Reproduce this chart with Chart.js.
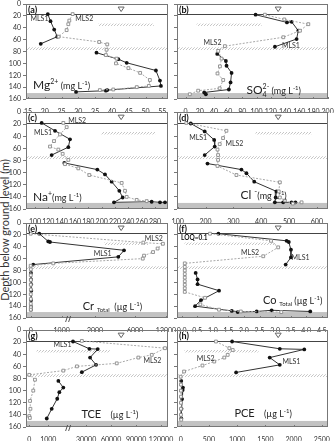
<!DOCTYPE html>
<html>
<head>
<meta charset="utf-8">
<script src="https://cdn.jsdelivr.net/npm/chart.js@4.4.0/dist/chart.umd.min.js"></script>
<style>
  html, body { margin: 0; padding: 0; background: #fff; }
  body { width: 334px; height: 441px; position: relative; overflow: hidden; }
  canvas { position: absolute; }
  #ytitle {
    position: absolute; left: -106px; top: 224px; width: 220px; height: 12px;
    line-height: 12px; text-align: center; transform: rotate(-90deg);
    font: 11px Lato, "Liberation Sans", sans-serif; color: #333;
  }
</style>
</head>
<body>
<div id="ytitle">Depth below ground level (m)</div>
<script>
// depth axis (m) shared by all panels
const depthTicks = [0, 20, 40, 60, 80, 100, 120, 140, 160];

// (a) Mg2+ (mg/L)
const mgTicks = [15, 20, 25, 30, 35, 40, 45, 50, 55];
const mgDepth1 = [17, 29, 43, 55, 67, null, 82, 93, 99, 112, 129, 138, 145, 146, 148];
const mg1 = [20.9, 21.7, 22.8, 23.7, 18.8, null, 35.4, 41.9, 44.4, 53.1, 54.3, 54.6, 38.6, 38.2, 29.3];
const mgDepth2 = [17, 28, 34, 44, 55, 64, 68, 77, 86, 92, 100, 108, 116, 128, 138, 140, 144, 145];
const mg2 = [28.3, 27.3, 27.0, 26.5, 24.1, 36.2, 38.6, 38.4, 38.2, 41.4, 41.2, 44.9, 48.4, 51.3, 51.0, 47.4, 40.4, 36.4];

// (b) SO4 2- (mg/L)
const so4Ticks = [0, 20, 40, 60, 80, 100, 120, 140, 160, 180, 200];
const so4Depth1 = [18, 31, 30, 45, 59, 72, null, 84, 96, 104, 116, 132, 144, 149, 152];
const so41 = [98.6, 142.7, 149.3, 158.7, 156.3, 125.8, null, 44.6, 56.8, 57.7, 64.8, 63.4, 61.0, 26.3, 28.6];
const so4Depth2 = [18, 26, 34, 45, 56, 71, 79, 92, 105, 117, 128, 142, 146, 152];
const so42 = [111.7, 139, 172.8, 161, 137.6, 55.4, 46, 50.7, 48.4, 45, 53, 48, 17.8, 6];

// (c) Na+ (mg/L)
const naTicks = [100, 120, 140, 160, 180, 200, 220, 240, 260, 280];
const naDepth1 = [18, 31, 45, 58, 71, null, 84, 95, 103, 115, 130, 141, 149, 148, 149, 149];
const na1 = [110, 130, 152.5, 150, 125, null, 144, 193.5, 205, 215, 226.5, 231.5, 218.5, 275, 287.5, 295];
const naDepth2 = [18, 25, 37, 48, 57, 62, 69, 79, 86, 93, 104, 117, 130, 140, 145, 147];
const na2 = [142.5, 147.5, 137.5, 128.5, 122.5, 135, 141.5, 150, 145, 165, 181.5, 230, 235, 237.5, 252.5, 267.5];

// (d) Cl- (mg/L)
const clTicks = [100, 200, 300, 400, 500, 600];
const clDepth1 = [19, 32, 46, 57, 71, null, 85, 95, 101, 115, 131, 141, 149, 149, 149, 149];
const cl1 = [147, 197, 231, 233, 197, null, 207, 329, 347, 375, 455, 452, 449, 479, 509, 523];
const clDepth2 = [18, 31, 43, 53, 62, 71, 79, 89, 104, 116, 131, 141, 146, 151, 149];
const cl2 = [131, 275, 263, 251, 243, 245, 245, 243, 311, 467, 463, 467, 485, 514, 545];

// (e) Cr total (ug/L)
const crTicks = [0, 1000, 2000, 6000, 12000];
const crDepth1 = [18, 31, 32, 46, 57, 70, null, 84, 95, 103, 114, 130, 141, 146];
const cr1 = [277, 568, 623, 4900, 4330, 84, null, 10, 12, 15, 20, 12, 10, 8];
const crDepth2 = [18, 33, 35, 43, 49, 55, 60, 68, 72, 78, 88, 96, 104, 112, 120, 128, 136, 142, 146];
const cr2 = [0, 7600, 11400, 10370, 9480, 7740, 7490, 729, 0, 5, 3, 5, 3, 5, 3, 5, 3, 5, 3];

// (f) Co total (ug/L)
const coTicks = [0, 0.5, 1, 1.5, 2, 2.5, 3, 3.5, 4, 4.5];
const coDepth1 = [18, 30, 32, 45, 58, 70, null, 84, 95, 103, 114, 130, 140, 148, 150, 149, 147, 149];
const co1 = [1.18, 3.37, 3.44, 3.51, 3.51, 3.34, null, 0.45, 0.51, 0.51, 1.2, 0.62, 0.43, 1.61, 1.8, 2.41, 2.89, 4.13];
const coDepth2 = [18, 30, 41, 56, 68, 74, 80, 86, 92, 98, 104, 110, 116, 126, 137, 146, 149, 150];
const co2 = [0.91, 2.87, 3.1, 2.62, 0.1, 0.1, 0.1, 0.1, 0.1, 0.1, 0.1, 0.1, 0.1, 0.75, 0.6, 1.2, 1.9, 3.2];

// (g) TCE (ug/L)
const tceTicks = [0, 1000, 30000, 60000, 90000, 120000];
const tceDepth1 = [19, 31, 31.5, 45.5, 57.5, 69.6, null, 84, 95, 102.5, 113.4, 130, 146];
const tce1 = [14000, 34000, 44000, 34800, 42000, 24800, null, 1530, 1790, 1580, 1470, 1180, 920];
const tceDepth2 = [18, 30, 41, 45.5, 55, 60, 67, 74, 82, 100, 117, 130, 142, 145];
const tce2 = [24840, 124800, 108840, 92760, 66840, 18840, 1789, 0, 300, 210, 40, 60, 0, 30];

// (h) PCE (ug/L)
const pceTicks = [0, 500, 1000, 1500, 2000, 2500];
const pceDepth1 = [19, 31, 32, 45.5, 57.5, 70, null, 84, 95, 99, 114, 130, 146];
const pce1 = [911, 1756, 2190, 1577, 1756, 982, null, 10, 40, 35, 25, 15, 10];
const pceDepth2 = [19, 30, 33, 41, 45.5, 52, 58.6, 68.5, 77, 90, 100, 110, 120, 130, 140, 148];
const pce2 = [625, 862, 922, 833, 773, 595, 386, 60, 0, 5, 5, 5, 5, 5, 5, 10];

const FONT = 'Lato, "Liberation Sans", sans-serif';

// x axis with a break: piecewise linear between [value, fraction] stops
class BrokenScale extends Chart.LinearScale {
  getPixelForValue(value) {
    const st = this.options.stops;
    let i = 1;
    while (i < st.length - 1 && value > st[i][0]) i++;
    const f = st[i - 1][1] + (value - st[i - 1][0]) / (st[i][0] - st[i - 1][0]) * (st[i][1] - st[i - 1][1]);
    return this.left + f * this.width;
  }
  getValueForPixel(pixel) {
    const st = this.options.stops;
    const f = (pixel - this.left) / this.width;
    let i = 1;
    while (i < st.length - 1 && f > st[i][1]) i++;
    return st[i - 1][0] + (f - st[i - 1][1]) / (st[i][1] - st[i - 1][1]) * (st[i][0] - st[i - 1][0]);
  }
}
BrokenScale.id = 'broken';
Chart.register(BrokenScale);

const hatchCanvas = document.createElement('canvas');
hatchCanvas.width = 3; hatchCanvas.height = 3;
(function () {
  const c = hatchCanvas.getContext('2d');
  c.strokeStyle = '#b8b8b8'; c.lineWidth = 0.8;
  c.beginPath(); c.moveTo(-1, 4); c.lineTo(4, -1); c.stroke();
})();

function pts(depths, vals) {
  return vals.map((v, i) => (v === null ? { x: null, y: null } : { x: v, y: depths[i] }));
}

function drawRich(ctx, x, y, parts) {
  let cx = x;
  for (const [t, size, dy, stay] of parts) {
    ctx.font = size + 'px ' + FONT;
    ctx.fillText(t, cx, y + (dy || 0));
    if (!stay) cx += ctx.measureText(t).width;
  }
}

const panels = [
  { tag: '(a)', box: [26, 4, 142, 95], col: 0, x: { min: 14.4, max: 56.7 }, ticks: mgTicks,
    s1: pts(mgDepth1, mg1), s2: pts(mgDepth2, mg2), hatch: [0.51, 0.9],
    labels: [['MLS1', 0.095, 25], ['MLS2', 0.41, 25]],
    unit: [0.05, 137, [['Mg', 12], ['2+', 7, -5], [' (mg L', 9], ['-1', 6, -4], [')', 9]]] },
  { tag: '(b)', box: [177, 4, 151, 95], col: 1, x: { min: -12, max: 200.5 }, ticks: so4Ticks,
    s1: pts(so4Depth1, so41), s2: pts(so4Depth2, so42), hatch: [0.13, 0.56],
    labels: [['MLS2', 0.235, 65], ['MLS1', 0.754, 71]],
    unit: [0.46, 145, [['SO', 12], ['4', 7, 3, true], ['2-', 7, -5], [' (mg L', 9], ['-1', 6, -4], [')', 9]]] },
  { tag: '(c)', box: [26, 112, 142, 97], col: 0, x: { min: 86.5, max: 299.5 }, ticks: naTicks,
    s1: pts(naDepth1, na1), s2: pts(naDepth2, na2), hatch: [0.53, 0.91],
    labels: [['MLS1', 0.12, 35], ['MLS2', 0.36, 14.5]],
    unit: [0.05, 140, [['Na', 12], ['+', 7, -5], ['(mg L', 9], ['-1', 6, -4], [')', 9]]] },
  { tag: '(d)', box: [177, 112, 151, 97], col: 1, x: { min: 97.5, max: 640 }, ticks: clTicks,
    s1: pts(clDepth1, cl1), s2: pts(clDepth2, cl2), hatch: [0.52, 0.89],
    labels: [['MLS1', 0.14, 42], ['MLS2', 0.38, 53]],
    unit: [0.42, 137, [['Cl ', 12], ['-', 8, -5], ['(mg L', 9], ['-1', 6, -4], [')', 9]]] },
  { tag: '(e)', box: [26, 223, 142, 95], col: 0, broken: 0.3, ticks: crTicks,
    x: { min: -150, max: 12400, stops: [[-150, 0], [0, 0.033], [1000, 0.251], [1200, 0.296], [2000, 0.486], [6000, 0.768], [12000, 0.986], [12400, 1]] },
    s1: pts(crDepth1, cr1), s2: pts(crDepth2, cr2), hatch: [0.55, 0.86],
    labels: [['MLS1', 0.54, 51], ['MLS2', 0.9, 26]],
    unit: [0.4, 139, [['Cr ', 11], ['Total', 6, 2], ['  (µg L', 9], ['-1', 6, -4], [')', 9]]] },
  { tag: '(f)', box: [177, 223, 151, 95], col: 1, x: { min: -0.15, max: 4.7 }, ticks: coTicks,
    fmt: v => v.toFixed(1),
    s1: pts(coDepth1, co1), s2: pts(coDepth2, co2), hatch: [0.05, 0.65],
    labels: [['MLS2', 0.484, 50], ['MLS1', 0.818, 58]], loq: 'LOQ=0.1',
    unit: [0.57, 129, [['Co ', 11], ['Total', 6, 2], [' (µg L', 9], ['-1', 6, -4], [')', 9]]] },
  { tag: '(g)', box: [26, 330, 142, 97], col: 0, broken: 0.3, ticks: tceTicks,
    x: { min: -175, max: 128400, stops: [[-175, 0], [0, 0.023], [1000, 0.157], [2000, 0.291], [10000, 0.308], [30000, 0.423], [120000, 0.951], [128400, 1]] },
    s1: pts(tceDepth1, tce1), s2: pts(tceDepth2, tce2), hatch: [0.075, 0.59],
    labels: [['MLS1', 0.257, 24.7], ['MLS2', 0.89, 51]],
    unit: [0.39, 138, [['TCE', 11], ['    (µg L', 9], ['-1', 6, -4], [')', 9]]] },
  { tag: '(h)', box: [177, 330, 151, 97], col: 1, x: { min: -65, max: 2610 }, ticks: pceTicks,
    s1: pts(pceDepth1, pce1), s2: pts(pceDepth2, pce2), hatch: [0.05, 0.54],
    labels: [['MLS2', 0.19, 47.7], ['MLS1', 0.758, 52]],
    unit: [0.38, 137, [['PCE', 11], ['    (µg L', 9], ['-1', 6, -4], [')', 9]]] },
];

function decoPlugin(p) {
  return {
    id: 'deco',
    beforeDatasetsDraw(chart) {
      const { ctx, chartArea: a } = chart;
      const y = chart.scales.y;
      ctx.save();
      // clay / bottom unit
      const yb = y.getPixelForValue(150);
      ctx.fillStyle = '#c2c2c2';
      ctx.fillRect(a.left, yb, a.width, a.bottom - yb);
      // hatched layers
      ctx.fillStyle = ctx.createPattern(hatchCanvas, 'repeat');
      const band = (d0, d1, f0, f1) => {
        const y0 = y.getPixelForValue(d0), y1 = y.getPixelForValue(d1);
        ctx.fillRect(a.left + f0 * a.width, y0, (f1 - f0) * a.width, y1 - y0);
      };
      band(73, 77.5, 0, 1);
      band(33, 37, p.hatch[0], p.hatch[1]);
      // water table line
      const yw = Math.round(y.getPixelForValue(17.5)) + 0.5;
      ctx.strokeStyle = '#444'; ctx.lineWidth = 1.2;
      ctx.beginPath(); ctx.moveTo(a.left, yw); ctx.lineTo(a.right, yw); ctx.stroke();
      ctx.restore();
    },
    afterDatasetsDraw(chart) {
      const { ctx, chartArea: a } = chart;
      const x = chart.scales.x, y = chart.scales.y;
      ctx.save();
      // frame
      ctx.strokeStyle = '#777'; ctx.lineWidth = 1;
      ctx.strokeRect(Math.round(a.left) + 0.5, Math.round(a.top) + 0.5, Math.round(a.width) - 1, Math.round(a.height) - 1);
      // inner x ticks
      ctx.beginPath();
      x.ticks.forEach(t => {
        const px = Math.round(x.getPixelForValue(t.value)) + 0.5;
        ctx.moveTo(px, a.bottom); ctx.lineTo(px, a.bottom - 2);
      });
      ctx.stroke();
      // axis break mark
      if (p.broken) {
        const bx = a.left + p.broken * a.width;
        ctx.strokeStyle = '#555';
        ctx.beginPath();
        ctx.moveTo(bx - 3, a.bottom + 4); ctx.lineTo(bx - 1, a.bottom - 2);
        ctx.moveTo(bx, a.bottom + 4); ctx.lineTo(bx + 2, a.bottom - 2);
        ctx.stroke();
      }
      // water table symbol
      const cx = a.left + 0.67 * a.width, cy = y.getPixelForValue(8.5);
      ctx.strokeStyle = '#666';
      ctx.beginPath();
      ctx.moveTo(cx - 3, cy - 2); ctx.lineTo(cx + 3, cy - 2); ctx.lineTo(cx, cy + 2.5); ctx.closePath();
      ctx.stroke();
      // panel tag
      ctx.fillStyle = '#111';
      ctx.textBaseline = 'middle';
      ctx.textAlign = 'left';
      ctx.font = 'bold 9px ' + FONT;
      ctx.fillText(p.tag, a.left + 2, a.top + 6);
      if (p.loq) {
        ctx.font = 'bold 6.5px ' + FONT;
        ctx.fillText(p.loq, a.left + 0.027 * a.width, y.getPixelForValue(24.5));
      }
      // well labels
      ctx.font = '7px ' + FONT;
      ctx.fillStyle = '#333';
      ctx.textAlign = 'center';
      p.labels.forEach(([t, f, d]) => ctx.fillText(t, a.left + f * a.width, y.getPixelForValue(d)));
      // parameter / unit label
      ctx.textAlign = 'left';
      ctx.textBaseline = 'alphabetic';
      ctx.fillStyle = '#222';
      drawRich(ctx, a.left + p.unit[0] * a.width, y.getPixelForValue(p.unit[1]) + 4, p.unit[2]);
      ctx.restore();
    }
  };
}

function makePanel(p) {
  const AX = p.col === 0 ? 26 : 12, PT = 14, PR = 24, PB = 14;
  const [bl, bt, bw, bh] = p.box;
  const canvas = document.createElement('canvas');
  canvas.width = AX + bw + PR;
  canvas.height = PT + bh + PB;
  canvas.style.left = (bl - AX) + 'px';
  canvas.style.top = (bt - PT) + 'px';
  document.body.appendChild(canvas);

  new Chart(canvas, {
    type: 'scatter',
    data: {
      datasets: [
        { label: 'MLS2', data: p.s2, showLine: true, borderColor: '#a8a8a8', borderWidth: 1,
          borderDash: [2, 1.5], pointStyle: 'rect', pointRadius: 2, pointBorderWidth: 0.9,
          pointBorderColor: '#8a8a8a', pointBackgroundColor: '#fff' },
        { label: 'MLS1', data: p.s1, showLine: true, borderColor: '#333', borderWidth: 1,
          pointStyle: 'circle', pointRadius: 1.9, pointBorderWidth: 0,
          pointBackgroundColor: '#111' },
      ]
    },
    options: {
      responsive: false,
      animation: false,
      devicePixelRatio: 1,
      layout: { padding: { left: 0, top: PT, right: PR, bottom: 0 } },
      plugins: { legend: { display: false }, tooltip: { enabled: false } },
      scales: {
        x: Object.assign({
          type: p.broken ? 'broken' : 'linear',
          position: 'bottom',
          afterBuildTicks: s => { s.ticks = p.ticks.map(v => ({ value: v })); },
          afterFit: s => { s.height = PB; },
          grid: { display: false },
          border: { display: false },
          ticks: { font: { family: FONT, size: 7 }, color: '#333', padding: 1, maxRotation: 0,
            autoSkip: false, callback: v => (p.fmt ? p.fmt(v) : String(v)) }
        }, p.x),
        y: {
          reverse: true, min: 0, max: 160,
          afterBuildTicks: s => { s.ticks = depthTicks.map(v => ({ value: v })); },
          afterFit: s => { s.width = AX; },
          grid: { drawOnChartArea: false, drawTicks: true, tickLength: 3, color: '#777' },
          border: { display: false },
          ticks: { display: p.col === 0, autoSkip: false, font: { family: FONT, size: 7 }, color: '#333', padding: 2 }
        }
      }
    },
    plugins: [decoPlugin(p)]
  });
}

panels.forEach(makePanel);
</script>
</body>
</html>
